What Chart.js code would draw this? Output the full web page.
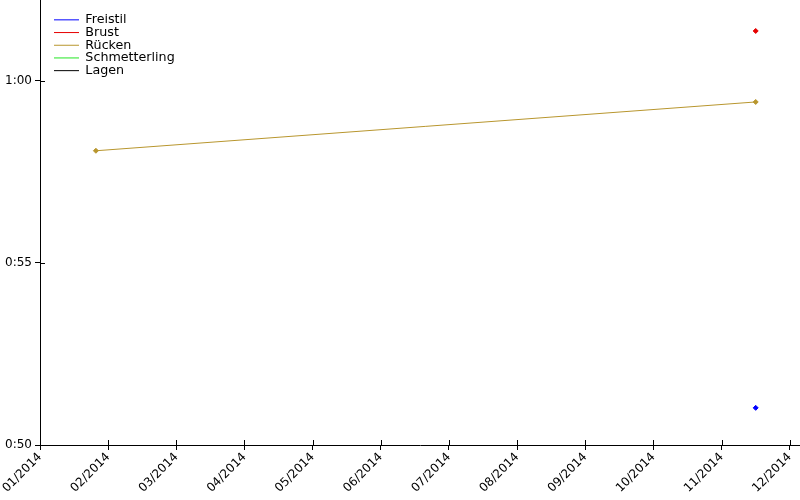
<!DOCTYPE html>
<html>
<head>
<meta charset="utf-8">
<script src="https://cdn.jsdelivr.net/npm/chart.js@4/dist/chart.umd.min.js"></script>
<style>
  html, body { margin: 0; padding: 0; background: #fff; }
  #wrap { width: 800px; height: 500px; }
</style>
</head>
<body>
<div id="wrap"><canvas id="times"></canvas></div>
<script>
// x = months since 01/2014, y = seconds
const monthLabels = ["01/2014", "02/2014", "03/2014", "04/2014", "05/2014", "06/2014",
                     "07/2014", "08/2014", "09/2014", "10/2014", "11/2014", "12/2014"];
const strokes = ["Freistil", "Brust", "Rücken", "Schmetterling", "Lagen"];
const strokeColors = ["#0000ff", "#e60000", "#b8962e", "#22e622", "#000000"];

const freistil = [{ x: 10.5, y: 51.02 }];
const brust = [{ x: 10.5, y: 61.37 }];
const ruecken = [{ x: 0.82, y: 58.08 }, { x: 10.5, y: 59.42 }];
const schmetterling = [];
const lagen = [];

const yTicks = [50, 55, 60];

const fmtTime = (sec) => {
    const m = Math.floor(sec / 60);
    const s = Math.round(sec - m * 60);
    return m + ":" + String(s).padStart(2, "0");
};

// no extra room around the plot for the tick labels
const noPadding = (scale) => {
    scale.paddingTop = scale.paddingBottom = 0;
    scale.paddingLeft = scale.paddingRight = 0;
};

const innerTicks = {
    id: "innerTicks",
    afterLayout(chart) {
        // legend sits a bit inside the plot corner
        chart.legend.left = chart.chartArea.left + 14;
        chart.legend.top = chart.chartArea.top + 13.5;
    },
    // the part of each tick mark that lies inside the plot
    afterDraw(chart) {
        const { ctx, chartArea, scales } = chart;
        ctx.save();
        ctx.strokeStyle = "#000";
        ctx.lineWidth = 1;
        ctx.beginPath();
        for (const t of scales.y.ticks) {
            const py = Math.round(scales.y.getPixelForValue(t.value)) + 0.5;
            ctx.moveTo(chartArea.left, py);
            ctx.lineTo(chartArea.left + 5, py);
        }
        for (const t of scales.x.ticks) {
            const px = Math.round(scales.x.getPixelForValue(t.value)) + 0.5;
            ctx.moveTo(px, chartArea.bottom);
            ctx.lineTo(px, chartArea.bottom - 5);
        }
        ctx.stroke();
        ctx.restore();
    }
};

const seriesData = [freistil, brust, ruecken, schmetterling, lagen];

new Chart(document.getElementById("times"), {
    type: "line",
    data: {
        datasets: strokes.map((name, i) => ({
            label: name,
            data: seriesData[i],
            borderColor: strokeColors[i],
            backgroundColor: strokeColors[i],
            borderWidth: 1,
            pointStyle: "rectRot",
            pointRadius: 2.5,
            pointBorderWidth: 1,
            tension: 0
        }))
    },
    options: {
        responsive: true,
        maintainAspectRatio: false,
        animation: false,
        layout: { padding: 0, autoPadding: false },
        plugins: {
            tooltip: { enabled: false },
            legend: {
                position: "chartArea",
                align: "start",
                fullSize: false,
                labels: {
                    usePointStyle: true,
                    pointStyle: "line",
                    pointStyleWidth: 25,
                    boxHeight: 12,
                    padding: 0,
                    color: "#000",
                    font: { family: "DejaVu Sans", size: 12.7, lineHeight: 13 / 12.7 },
                    generateLabels(chart) {
                        return chart.data.datasets.map((ds, i) => ({
                            text: ds.label,
                            strokeStyle: ds.borderColor,
                            fillStyle: ds.borderColor,
                            lineWidth: 1,
                            pointStyle: "line",
                            datasetIndex: i,
                            hidden: false
                        }));
                    }
                }
            }
        },
        scales: {
            x: {
                type: "linear",
                min: 0,
                max: 11.15,
                afterFit(scale) {
                    scale.height = 55;
                    noPadding(scale);
                },
                afterBuildTicks(scale) {
                    scale.ticks = monthLabels.map((_, i) => ({ value: i }));
                },
                border: { color: "#000", width: 1 },
                grid: { drawOnChartArea: false, color: "#000", tickLength: 5 },
                ticks: {
                    autoSkip: false,
                    minRotation: 45,
                    maxRotation: 45,
                    padding: 0,
                    color: "#000",
                    font: { family: "DejaVu Sans", size: 12 },
                    callback: (v) => monthLabels[v]
                }
            },
            y: {
                type: "linear",
                min: 50,
                max: 62.22,
                afterFit(scale) {
                    scale.width = 40;
                    noPadding(scale);
                },
                afterBuildTicks(scale) {
                    scale.ticks = yTicks.map((v) => ({ value: v }));
                },
                border: { color: "#000", width: 1 },
                grid: { drawOnChartArea: false, color: "#000", tickLength: 5 },
                ticks: {
                    padding: 3,
                    color: "#000",
                    font: { family: "DejaVu Sans", size: 12 },
                    callback: (v) => fmtTime(v)
                }
            }
        }
    },
    plugins: [innerTicks]
});
</script>
</body>
</html>
